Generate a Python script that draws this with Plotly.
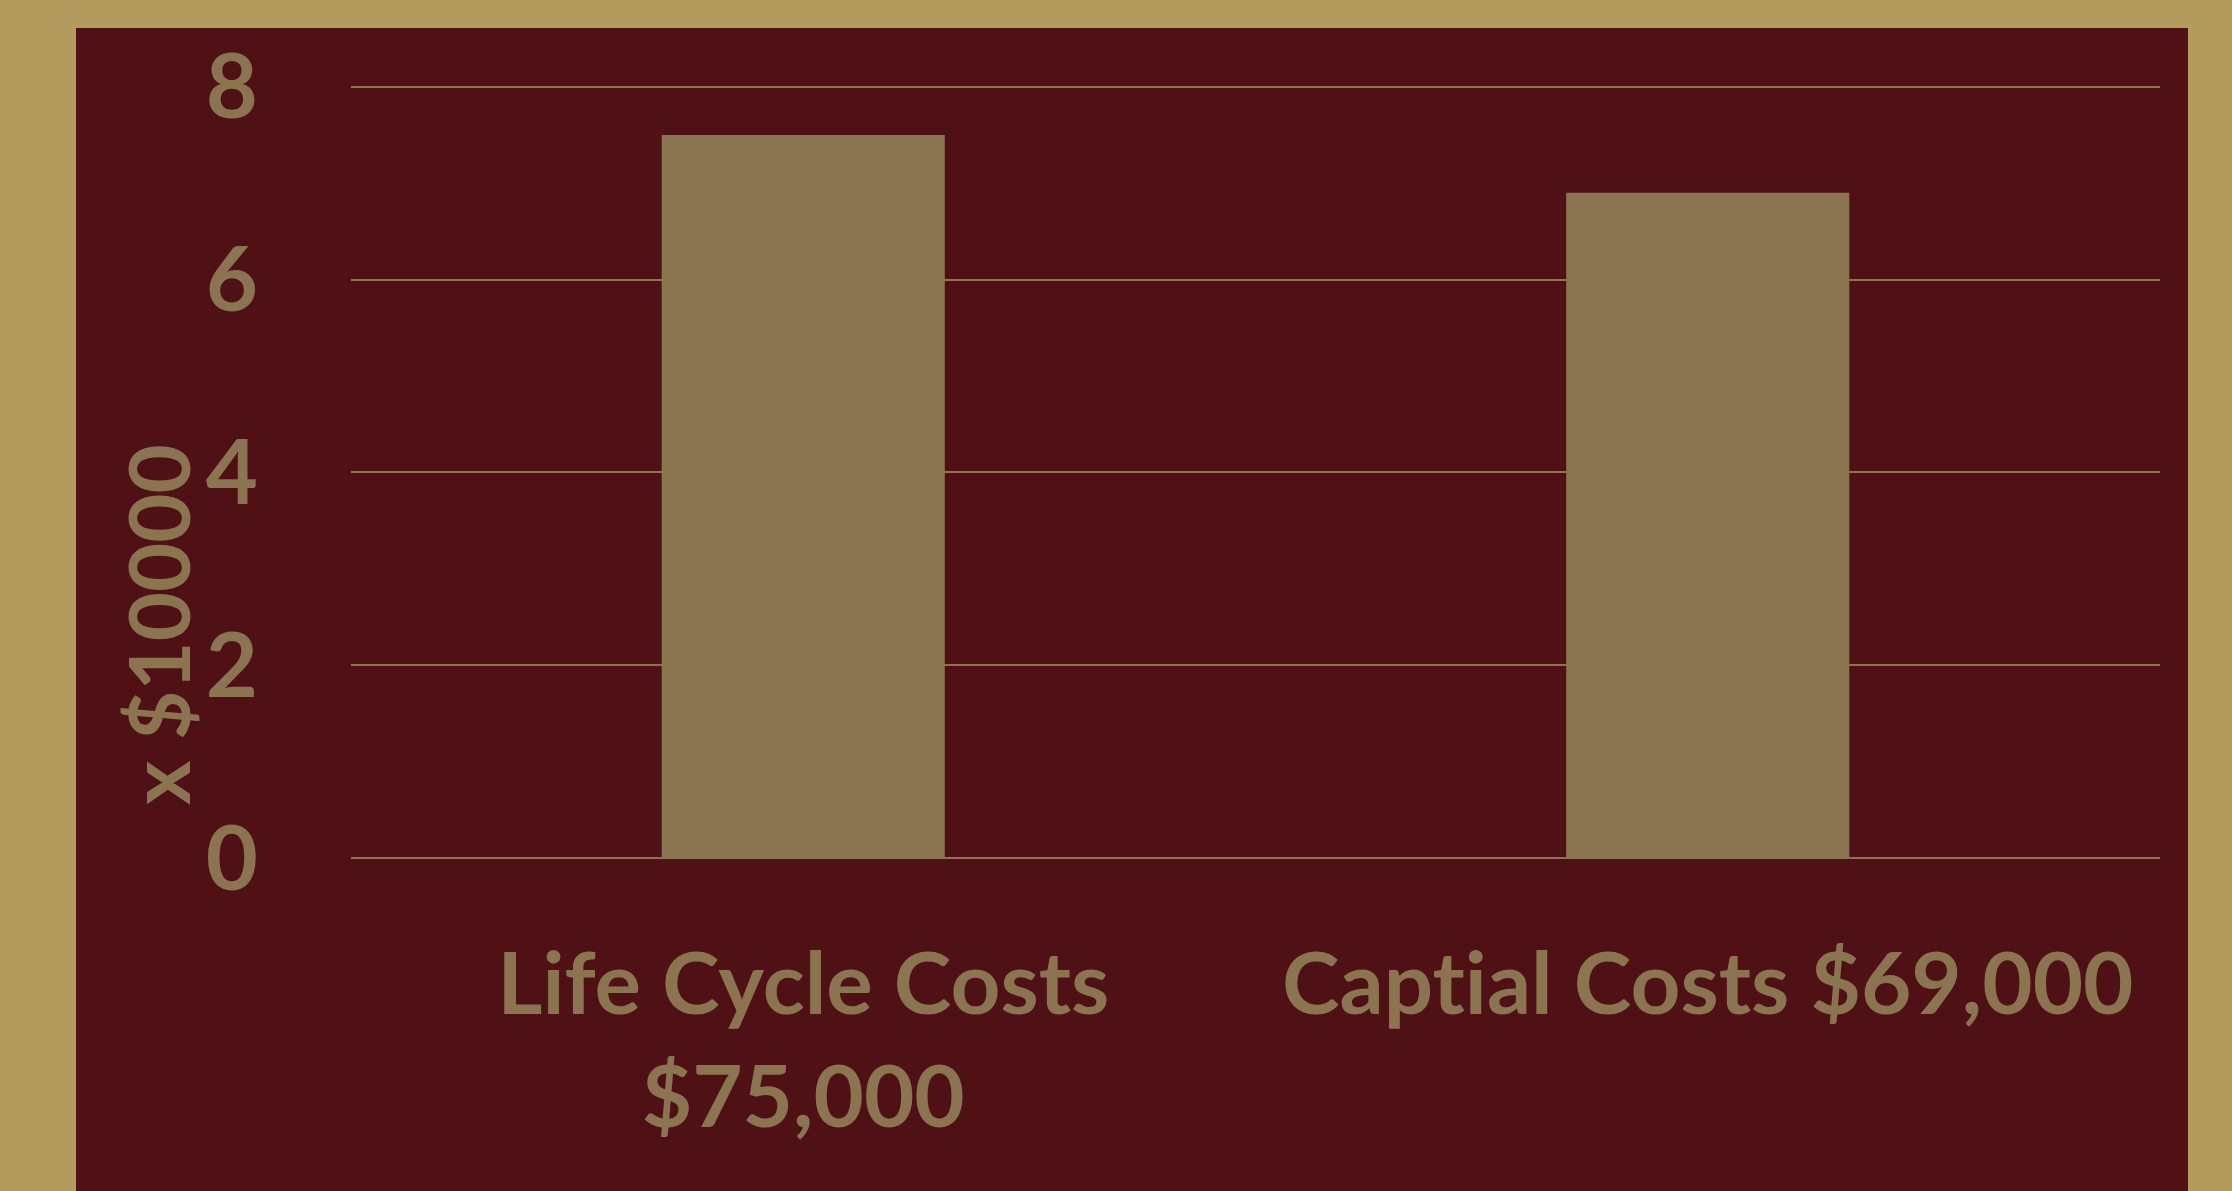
import plotly.graph_objects as go

# \u200c (zero-width non-joiner) keeps the font from forming a "ti" ligature
categories = ["Life Cycle Costs<br>$75,000", "Capt\u200cial Costs $69,000"]
values = [7.5, 6.9]
y_ticks = [0, 2, 4, 6, 8]
y_title = "x $10000"

TAN = "#B39B5D"
MAROON = "#4F1116"
BAR = "#8B7550"
FONT = "Lato, 'Open Sans', sans-serif"

W, H = 2232, 1191
YMAX = 8.05
L, R, B = 351, 72, 333
per_unit = (858 - 87) / 8.0
T = round(87 - (YMAX - 8) * per_unit)
pw, ph = W - L - R, H - T - B

def px_x(p):
    return (p - L) / pw

def px_y(p):
    return (H - B - p) / ph

fig = go.Figure()
fig.add_trace(go.Bar(x=categories, y=values, marker=dict(color=BAR, line=dict(width=0)), hoverinfo="skip"))

fig.add_shape(type="rect", xref="paper", yref="paper",
              x0=px_x(76), x1=px_x(2188), y0=px_y(1200), y1=px_y(28),
              fillcolor=MAROON, line=dict(width=0), layer="below")

fig.add_annotation(text=y_title, xref="paper", yref="paper", x=px_x(157), y=px_y(625),
                   textangle=-90, showarrow=False, xanchor="center", yanchor="middle",
                   font=dict(family=FONT, size=85, color=BAR, weight="bold"))

fig.update_layout(
    width=W, height=H,
    margin=dict(l=L, r=R, t=T, b=B, autoexpand=False),
    paper_bgcolor=TAN, plot_bgcolor=MAROON,
    bargap=0.687, showlegend=False,
    font=dict(family=FONT, color=BAR),
    xaxis=dict(showgrid=False, showline=False, zeroline=False, ticks="", tickangle=0,
               tickfont=dict(family=FONT, size=87, color=BAR, weight="bold"),
               ticklabelstandoff=68),
    yaxis=dict(range=[0, YMAX], tickvals=y_ticks, showgrid=True, gridcolor=BAR, gridwidth=2,
               zeroline=True, zerolinecolor=BAR, zerolinewidth=2, showline=False, ticks="",
               tickfont=dict(family=FONT, size=90, color=BAR, weight="bold"),
               ticklabelstandoff=92),
)

fig.write_html("out.html", config={"displayModeBar": False, "staticPlot": True},
               post_script="document.body.style.margin='0';document.body.style.padding='0';"
                           "document.body.style.background='" + TAN + "';")
